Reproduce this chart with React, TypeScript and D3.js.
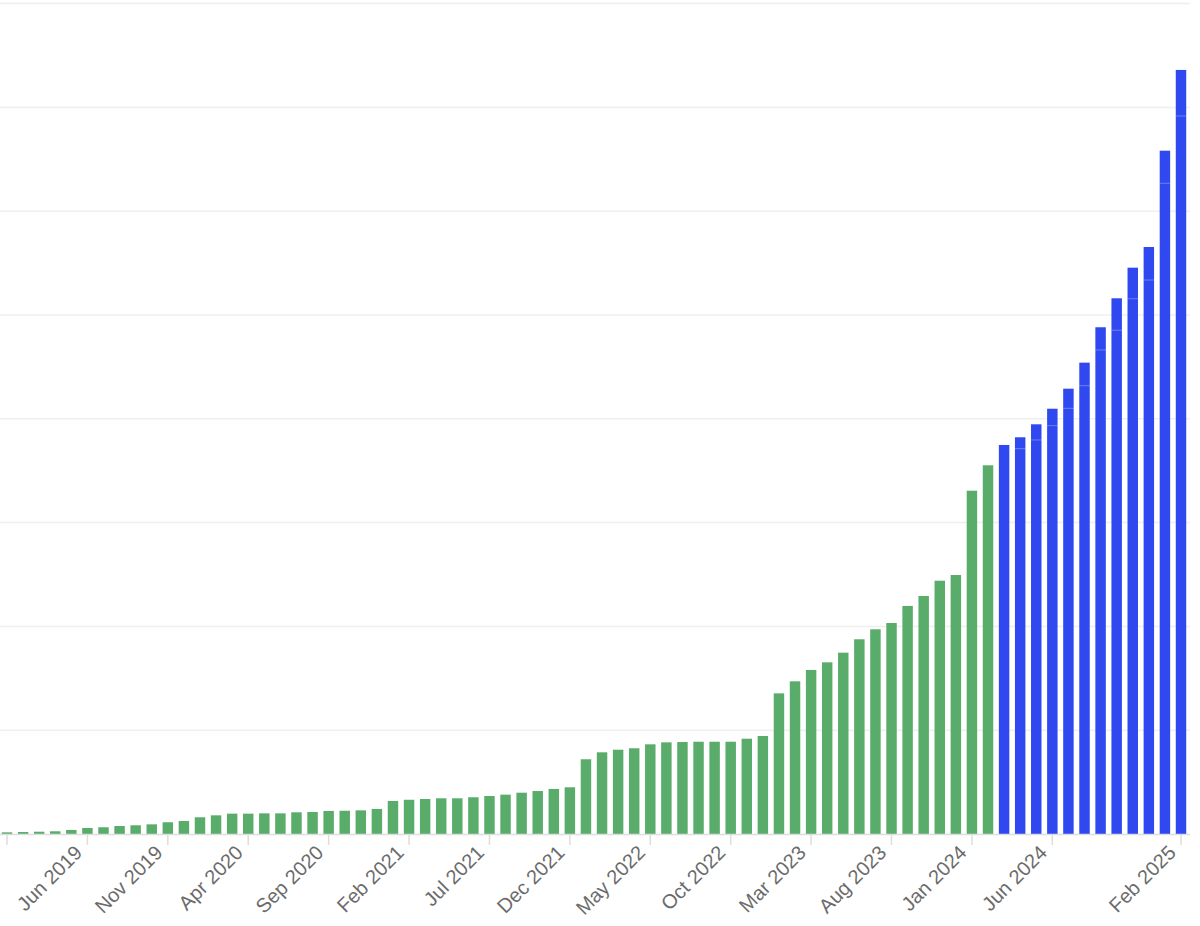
import { useEffect, useRef } from "react"
import * as d3 from "d3"

// Monthly periods, Jan 2019 .. Feb 2025
const monthNames = ["Jan", "Feb", "Mar", "Apr", "May", "Jun", "Jul", "Aug", "Sep", "Oct", "Nov", "Dec"]
const months: string[] = []
for (let y = 2019; y <= 2025; y++) {
  for (let m = 0; m < 12; m++) {
    if (y === 2025 && m > 1) break
    months.push(`${monthNames[m]} ${y}`)
  }
}

// bar values (one grid line = 100)
const totals = [
  1.6, 1.9, 2.2, 2.6, 3.9, 5.8, 6.5, 7.7, 8.4, 9.3, 11.3, 12.5,
  16.1, 18.0, 19.6, 19.6, 19.9, 19.9, 20.9, 21.2, 22.2, 22.4, 22.8, 24.1,
  31.8, 33.0, 33.7, 34.4, 34.4, 35.4, 36.6, 37.9, 39.8, 41.4, 43.4, 45.0,
  72.0, 78.7, 81.2, 82.6, 86.4, 88.3, 88.6, 88.9, 88.9, 88.9, 91.8, 94.4,
  135.5, 147.1, 158.0, 165.4, 174.7, 187.6, 197.2, 203.3, 219.7, 229.3, 244.0, 249.5,
  330.7, 355.2, 374.8, 382.2, 394.7, 409.7, 429.0, 454.1, 488.2, 516.1, 545.6, 565.5,
  658.3, 736.1,
]

// lower stacked segment on the recent (blue) bars
const blueStart = "Mar 2024"
const lowerSegment: Record<string, number> = {
  "Apr 2024": 371.2,
  "May 2024": 379.6,
  "Jun 2024": 393.4,
  "Jul 2024": 410.1,
  "Aug 2024": 431.9,
  "Sep 2024": 466.3,
  "Oct 2024": 485.3,
  "Nov 2024": 515.7,
  "Dec 2024": 533.7,
  "Jan 2025": 626.9,
  "Feb 2025": 691.7,
}

// ticks; the first one has its label cut off in the original
const tickMonths = [
  "Jan 2019", "Jun 2019", "Nov 2019", "Apr 2020", "Sep 2020", "Feb 2021", "Jul 2021",
  "Dec 2021", "May 2022", "Oct 2022", "Mar 2023", "Aug 2023", "Jan 2024", "Jun 2024", "Feb 2025",
]
const hiddenLabels = ["Jan 2019"]
const gridValues = [100, 200, 300, 400, 500, 600, 700, 800]

export default function App() {
  const svgRef = useRef<SVGSVGElement | null>(null)

  useEffect(() => {
    if (!svgRef.current) return
    d3.select(svgRef.current).selectAll("*").remove()

    const svg = d3.select(svgRef.current)
    const baseline = 834

    const data = months.map((m, i) => ({ month: m, value: totals[i] }))
    const blueIdx = months.indexOf(blueStart)

    const x = d3
      .scaleBand()
      .domain(months)
      .range([-1.04, 1189.04])
      .paddingInner(0.35)
      .paddingOuter(0.175)

    const y = d3.scaleLinear().domain([0, 800]).range([baseline, 3.6])

    // grid lines
    svg
      .append("g")
      .selectAll("line")
      .data(gridValues)
      .enter()
      .append("line")
      .attr("x1", 0)
      .attr("x2", 1190)
      .attr("y1", (d) => y(d))
      .attr("y2", (d) => y(d))
      .attr("stroke", "#efefef")
      .attr("stroke-width", 1.5)

    // bars
    svg
      .append("g")
      .selectAll("rect")
      .data(data)
      .enter()
      .append("rect")
      .attr("x", (d) => x(d.month) as number)
      .attr("width", x.bandwidth())
      .attr("y", (d) => y(d.value))
      .attr("height", (d) => baseline - y(d.value))
      .attr("fill", (d, i) => (i >= blueIdx ? "#2f48ef" : "#5aac6b"))

    // stack separators
    svg
      .append("g")
      .selectAll("line")
      .data(Object.entries(lowerSegment))
      .enter()
      .append("line")
      .attr("x1", (d) => x(d[0]) as number)
      .attr("x2", (d) => (x(d[0]) as number) + x.bandwidth())
      .attr("y1", (d) => y(d[1]))
      .attr("y2", (d) => y(d[1]))
      .attr("stroke", "#ffffff")
      .attr("stroke-opacity", 0.3)
      .attr("stroke-width", 1)

    // x axis
    const axis = svg.append("g")
    axis
      .append("line")
      .attr("x1", 0)
      .attr("x2", 1190)
      .attr("y1", baseline + 0.5)
      .attr("y2", baseline + 0.5)
      .attr("stroke", "#dddddd")
      .attr("stroke-width", 1.5)

    const ticks = axis
      .selectAll(".tick")
      .data(tickMonths)
      .enter()
      .append("g")
      .attr("class", "tick")
      .attr("transform", (d) => `translate(${(x(d) as number) + x.bandwidth() / 2},${baseline})`)

    ticks
      .append("line")
      .attr("y1", 1)
      .attr("y2", 11)
      .attr("stroke", "#dddddd")
      .attr("stroke-width", 1.5)

    ticks
      .filter((d) => !hiddenLabels.includes(d))
      .append("text")
      .attr("transform", "translate(-4,20) rotate(-45)")
      .attr("text-anchor", "end")
      .attr("fill", "#6b6b6b")
      .attr("font-family", "'Helvetica Neue', Helvetica, Arial, 'Liberation Sans', sans-serif")
      .attr("font-size", "20px")
      .text((d) => d)
  }, [])

  return (
    <svg
      ref={svgRef}
      width={1200}
      height={926}
      style={{ position: "fixed", left: 0, top: 0, background: "#ffffff" }}
    ></svg>
  )
}
